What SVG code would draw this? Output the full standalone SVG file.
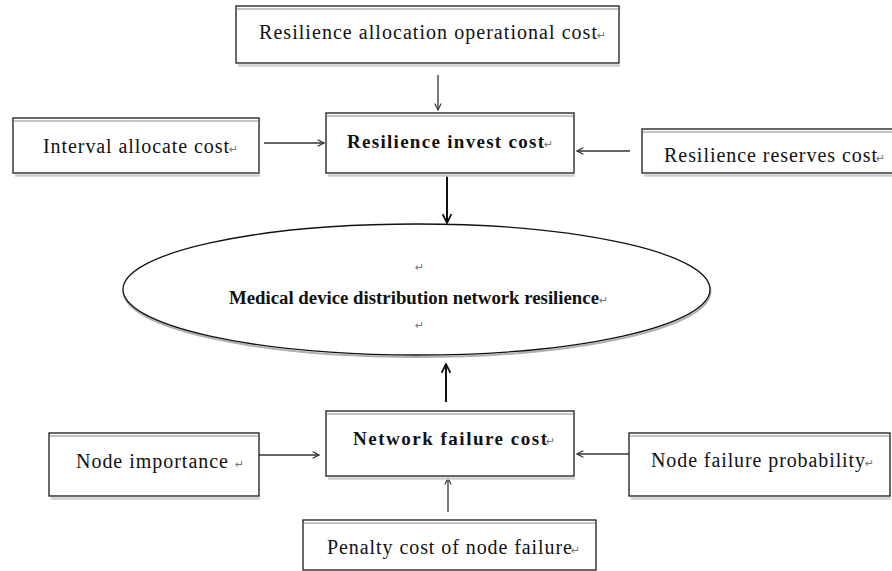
<svg xmlns="http://www.w3.org/2000/svg" width="892" height="571" viewBox="0 0 892 571">
<style>
.box{fill:#fff;stroke:#1a1a1a;stroke-width:1.3}
.hi{stroke:#c4c4c4;stroke-width:2}
.sh{stroke:#cfcfcf;stroke-width:2.5}
.t{font-family:"Liberation Serif","Times New Roman","DejaVu Serif",serif;font-size:20px;fill:#111}
.b{font-weight:bold;font-size:19px}
.m{font-weight:bold;font-size:18.5px}
.rt{font-family:"DejaVu Sans",sans-serif;font-size:11px;fill:#777}
.c{stroke:#333;stroke-width:1.3;fill:none}
.k{stroke:#111;stroke-width:2;fill:none}
</style>
<defs>
<marker id="ah" viewBox="0 0 10 10" refX="9" refY="5" markerWidth="8" markerHeight="8" markerUnits="userSpaceOnUse" orient="auto">
<path d="M1,1 L9,5 L1,9" fill="none" stroke="#333" stroke-width="1.4"/>
</marker>
<marker id="ahk" viewBox="0 0 10 10" refX="9" refY="5" markerWidth="11" markerHeight="11" markerUnits="userSpaceOnUse" orient="auto">
<path d="M1,1 L9,5 L1,9" fill="none" stroke="#111" stroke-width="1.6"/>
</marker>
</defs>
<rect width="892" height="571" fill="#fff"/>

<g id="connectors">
<line class="c" x1="438" y1="75" x2="438" y2="110" marker-end="url(#ah)"/>
<line class="c" x1="264" y1="143" x2="324" y2="143" marker-end="url(#ah)"/>
<line class="c" x1="630" y1="151" x2="577" y2="151" marker-end="url(#ah)"/>
<line class="k" x1="447" y1="175" x2="447" y2="223" marker-end="url(#ahk)"/>
<line class="k" x1="446" y1="402" x2="446" y2="364" marker-end="url(#ahk)"/>
<line class="c" x1="259" y1="455" x2="319" y2="455" marker-end="url(#ah)"/>
<line class="c" x1="629" y1="454" x2="577" y2="454" marker-end="url(#ah)"/>
<line class="c" x1="448" y1="512" x2="448" y2="478" marker-end="url(#ah)"/>
</g>

<g id="node-alloc-op">
<line class="sh" x1="238" y1="65.5" x2="620" y2="65.5"/>
<rect class="box" x="236" y="6" width="383" height="57"/>
<line class="hi" x1="237" y1="9" x2="618" y2="9"/>
<text class="t" x="259" y="39" textLength="338" lengthAdjust="spacing">Resilience allocation operational cost</text>
<text class="rt" x="597" y="39">↵</text>
</g>

<g id="node-invest">
<line class="sh" x1="328" y1="175.5" x2="575" y2="175.5"/>
<rect class="box" x="326" y="113" width="248" height="60"/>
<line class="hi" x1="327" y1="116" x2="573" y2="116"/>
<text class="t b" x="347" y="148" textLength="197" lengthAdjust="spacing">Resilience invest cost</text>
<text class="rt" x="544" y="148">↵</text>
</g>

<g id="node-interval">
<line class="sh" x1="15" y1="175.5" x2="260" y2="175.5"/>
<rect class="box" x="13" y="118" width="246" height="55"/>
<line class="hi" x1="14" y1="121" x2="258" y2="121"/>
<text class="t" x="43" y="153" textLength="186" lengthAdjust="spacing">Interval allocate cost</text>
<text class="rt" x="229" y="153">↵</text>
</g>

<g id="node-reserves">
<line class="sh" x1="644" y1="175.5" x2="892" y2="175.5"/>
<rect class="box" x="642" y="129" width="262" height="44"/>
<line class="hi" x1="643" y1="132" x2="892" y2="132"/>
<text class="t" x="664" y="162" textLength="213" lengthAdjust="spacing">Resilience reserves cost</text>
<text class="rt" x="876" y="162">↵</text>
</g>

<g id="node-resilience">
<ellipse cx="417" cy="291.5" rx="293.5" ry="65.5" fill="none" stroke="#b0b0b0" stroke-width="2"/>
<ellipse cx="416.5" cy="289.5" rx="293.5" ry="65.5" fill="#fff" stroke="#111" stroke-width="1.3"/>
<text class="rt" x="415" y="271">↵</text>
<text class="t m" x="229" y="304" textLength="370" lengthAdjust="spacingAndGlyphs">Medical device distribution network resilience</text>
<text class="rt" x="599" y="304">↵</text>
<text class="rt" x="415" y="329">↵</text>
</g>

<g id="node-failure">
<line class="sh" x1="328" y1="478.5" x2="575" y2="478.5"/>
<rect class="box" x="326" y="411" width="248" height="65"/>
<line class="hi" x1="327" y1="414" x2="573" y2="414"/>
<text class="t b" x="353" y="445" textLength="194" lengthAdjust="spacing">Network failure cost</text>
<text class="rt" x="546" y="445">↵</text>
</g>

<g id="node-importance">
<line class="sh" x1="51" y1="498.5" x2="260" y2="498.5"/>
<rect class="box" x="49" y="433" width="210" height="63"/>
<line class="hi" x1="50" y1="436" x2="258" y2="436"/>
<text class="t" x="76" y="468" textLength="152" lengthAdjust="spacing">Node importance</text>
<text class="rt" x="235" y="468">↵</text>
</g>

<g id="node-probability">
<line class="sh" x1="631" y1="498.5" x2="891" y2="498.5"/>
<rect class="box" x="629" y="433" width="261" height="63"/>
<line class="hi" x1="630" y1="436" x2="889" y2="436"/>
<text class="t" x="651" y="467" textLength="214" lengthAdjust="spacing">Node failure probability</text>
<text class="rt" x="865" y="467">↵</text>
</g>

<g id="node-penalty">
<rect class="box" x="303" y="520" width="293" height="50"/>
<line class="hi" x1="304" y1="523" x2="595" y2="523"/>
<text class="t" x="327" y="554" textLength="245" lengthAdjust="spacing">Penalty cost of node failure</text>
<text class="rt" x="571" y="554">↵</text>
</g>
</svg>
